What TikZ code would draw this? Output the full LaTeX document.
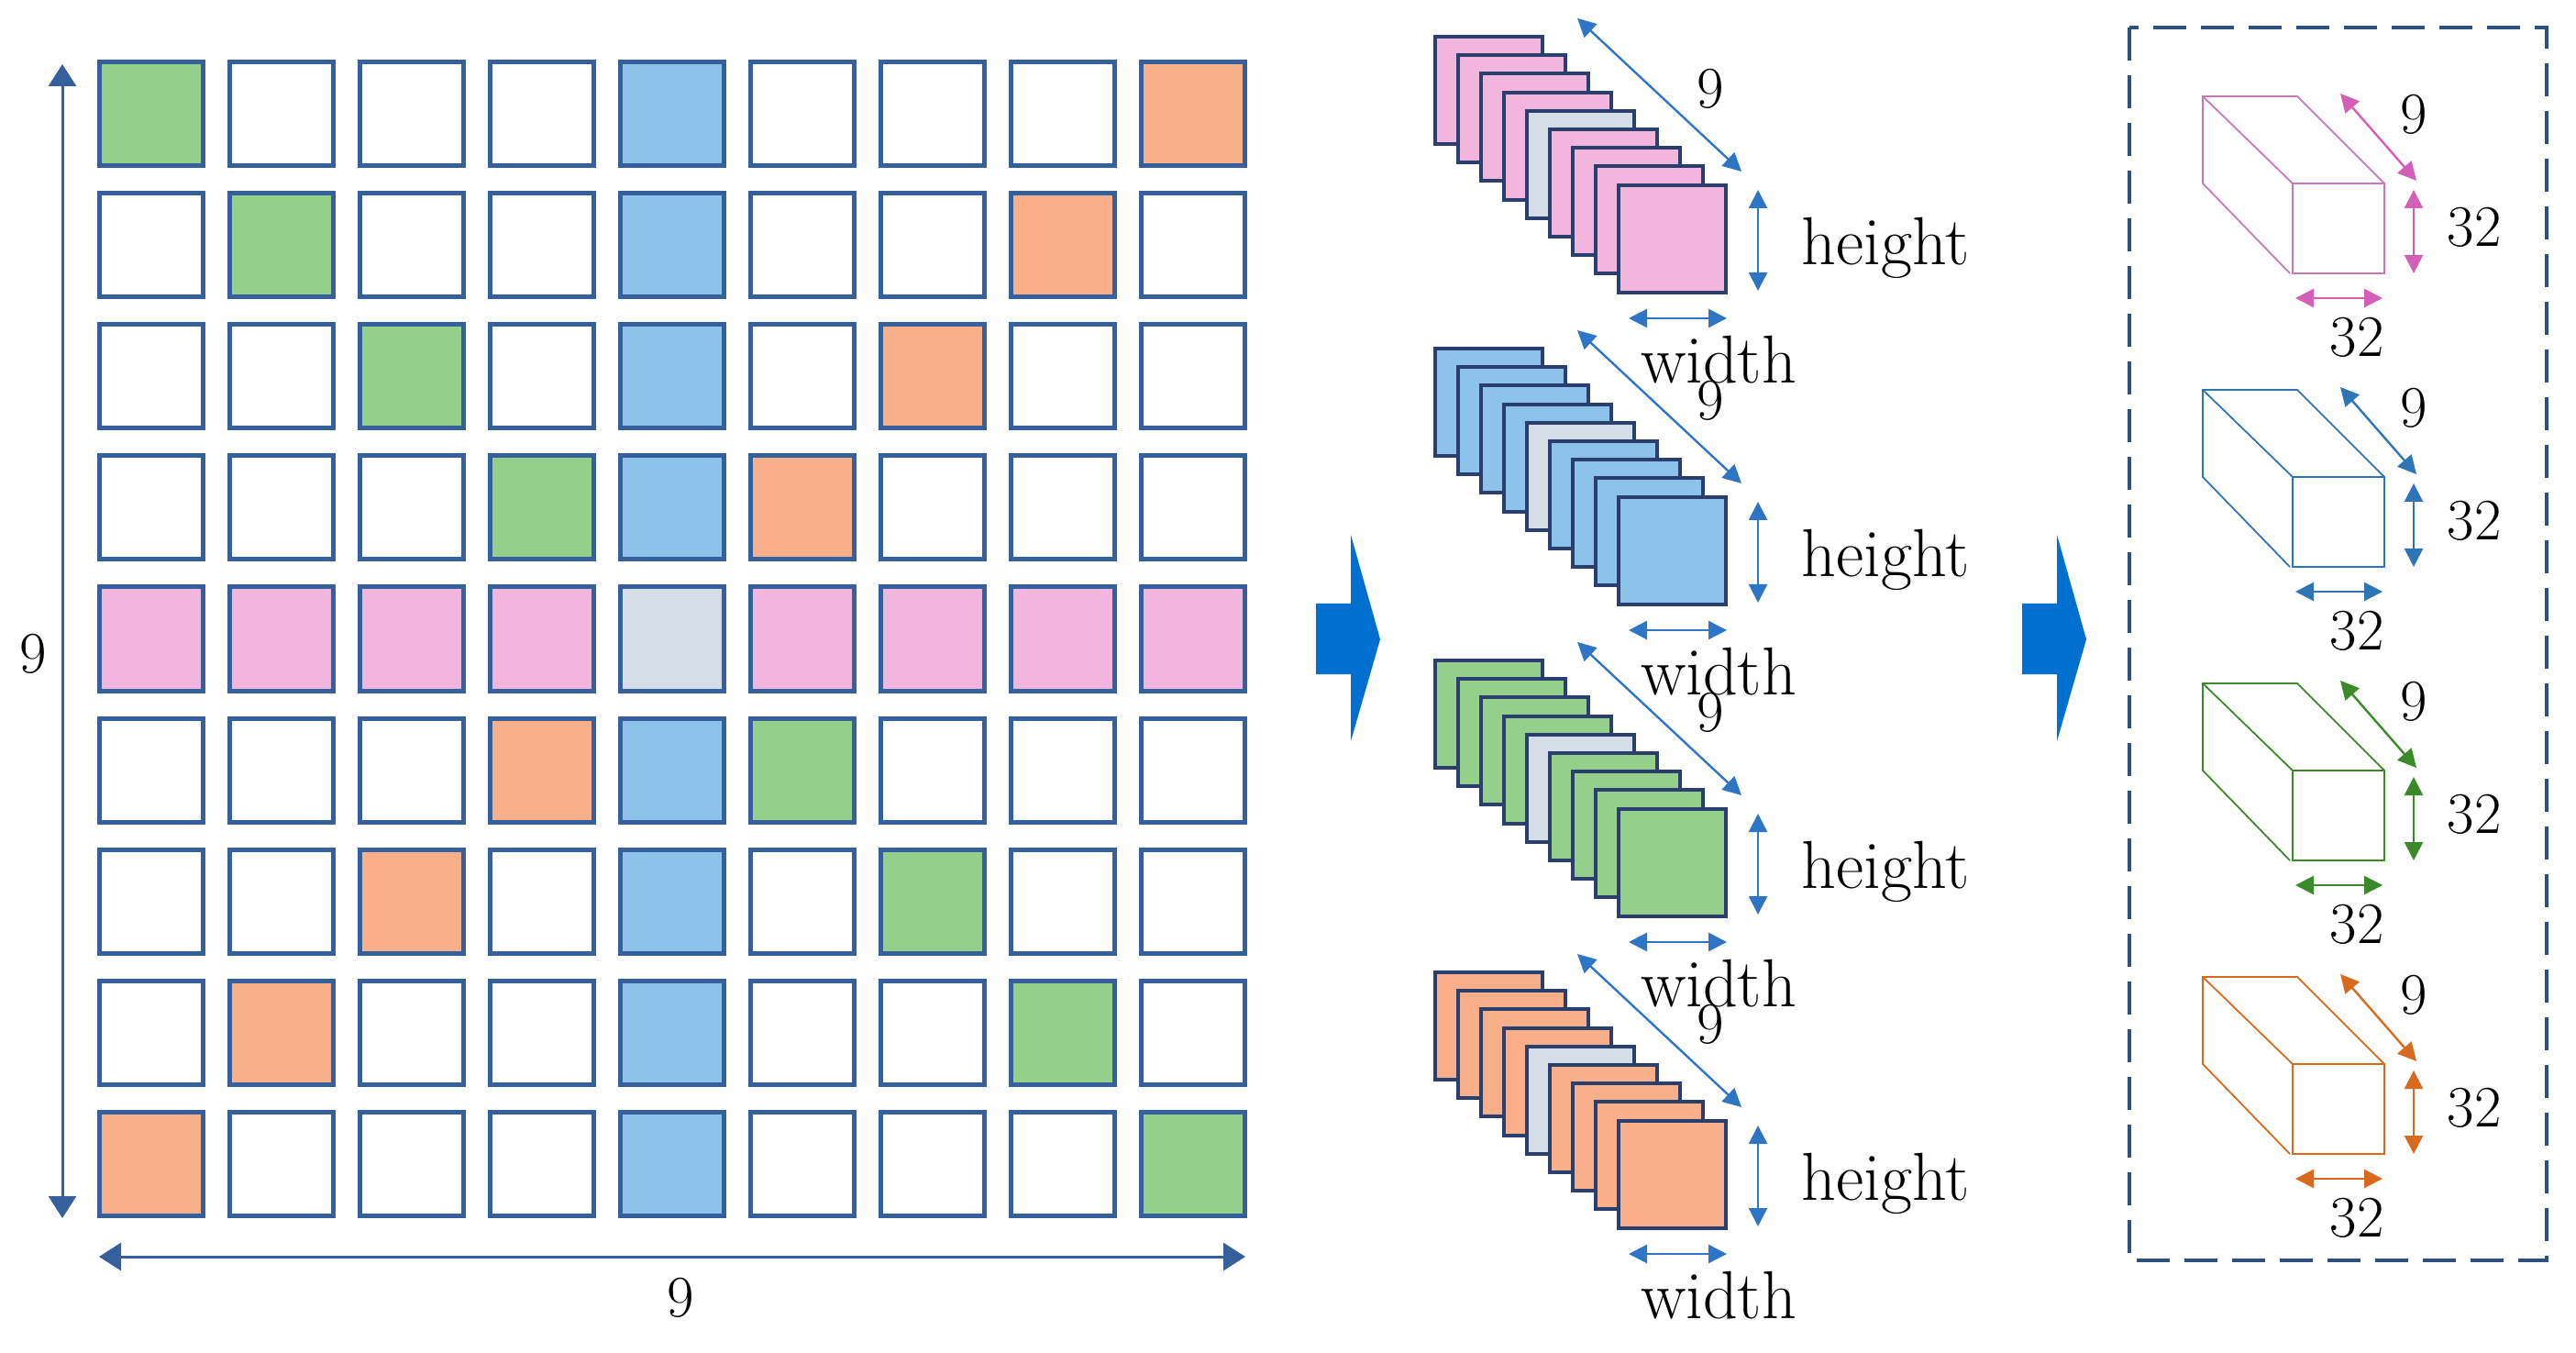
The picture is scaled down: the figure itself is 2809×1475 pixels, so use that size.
\documentclass[tikz,border=0pt]{standalone}
\usetikzlibrary{arrows.meta}
\definecolor{cgreen}{HTML}{94D089}
\definecolor{cblue}{HTML}{8DC3EA}
\definecolor{corange}{HTML}{F9B08A}
\definecolor{cpink}{HTML}{F2B6DE}
\definecolor{cgrey}{HTML}{D5DDE6}
\definecolor{cborder}{HTML}{35609C}
\definecolor{cnavy}{HTML}{2B3F6E}
\definecolor{carrow}{HTML}{2E75C6}
\definecolor{cbig}{HTML}{0070D0}
\definecolor{cmag}{HTML}{D35FB7}
\definecolor{cmagl}{HTML}{C878B4}
\definecolor{cblu}{HTML}{2E75B6}
\definecolor{cgrn}{HTML}{3A8A2A}
\definecolor{corg}{HTML}{D86A20}
\definecolor{cdash}{HTML}{2F4F7F}
\begin{document}
\begin{tikzpicture}[x=0.5pt,y=-0.5pt,
  cell/.style={draw=cborder,line width=2.5pt,minimum width=56.5pt,minimum height=56.5pt,inner sep=0pt,fill=#1},
  card/.style={draw=cnavy,line width=2pt,minimum width=58.5pt,minimum height=58.5pt,inner sep=0pt,fill=#1},
  bigarr/.style={{Triangle[width=15pt,length=12pt]}-{Triangle[width=15pt,length=12pt]},draw=cborder,line width=1.5pt},
  darr/.style={{Triangle[width=10pt,length=10pt]}-{Triangle[width=10pt,length=10pt]},draw=carrow,line width=1.2pt},
  carr/.style={{Triangle[width=10pt,length=10pt]}-{Triangle[width=10pt,length=10pt]},draw=#1,line width=1.2pt},
  lbl/.style={font=\fontsize{32}{36}\selectfont,inner sep=0pt},
  wlbl/.style={font=\fontsize{37}{40}\selectfont,inner sep=0pt},
  cub/.style={draw=#1,line width=0.9pt},
  blk/.style={fill=cbig}]
\useasboundingbox (0,0) rectangle (2809,1475);
% grid
\foreach \i in {0,...,8}{
  \foreach \j in {0,...,8}{
    \pgfmathtruncatemacro{\anti}{8-\i}
    \def\col{white}
    \ifnum\j=4 \def\col{cblue}\fi
    \ifnum\i=4 \def\col{cpink}\fi
    \ifnum\j=\i \def\col{cgreen}\fi
    \ifnum\j=\anti \def\col{corange}\fi
    \ifnum\i=4 \ifnum\j=4 \def\col{cgrey}\fi\fi
    \node[cell=\col] (g\i\j) at ({164.5+142*\j},{124.5+143*\i}) {};
  }
}
\coordinate (vt) at (68,70); \coordinate (vb) at (68,1328);
\draw[bigarr] (vb) -- (vt);
\node[lbl] (v9) at (36,713) {9};
\coordinate (hl) at (108,1370); \coordinate (hr) at (1358,1370);
\draw[bigarr] (hl) -- (hr);
\node[lbl] (h9) at (742,1415) {9};
% block arrows
\foreach \dx/\n in {0/ba1,770/ba2}{
  \begin{scope}[xshift=\dx*0.5pt]
  \fill[blk] (1435,658) -- (1473,658) -- (1473,583) -- (1505,697) -- (1473,808) -- (1473,735) -- (1435,735) -- cycle;
  \end{scope}
}
% stacks
\foreach \s/\c in {0/cpink,1/cblue,2/cgreen,3/corange}{
  \foreach \k in {0,...,8}{
    \ifnum\k=4 \def\cc{cgrey}\else \def\cc{\c}\fi
    \node[card=\cc] (st\s\k) at ({1623.5+25*\k},{98.5+20.2*\k+340*\s}) {};
  }
  \coordinate (da\s) at (1720,{20+340*\s}); \coordinate (db\s) at (1899,{187+340*\s});
  \draw[darr] (da\s) -- (db\s);
  \node[lbl] (n\s) at (1865,{97+340*\s}) {9};
  \coordinate (ha\s) at (1917,{207+340*\s}); \coordinate (hb\s) at (1917,{317+340*\s});
  \draw[darr] (ha\s) -- (hb\s);
  \node[wlbl] (ht\s) at (2056,{270+340*\s}) {height};
  \coordinate (wa\s) at (1776,{347+340*\s}); \coordinate (wb\s) at (1883,{347+340*\s});
  \draw[darr] (wa\s) -- (wb\s);
  \node[wlbl] (wt\s) at (1874,{392+340*\s}) {width};
}
% dashed box
\draw[cdash,line width=2pt,dash pattern=on 18pt off 8pt] (2322,30) rectangle (2777,1374);
% cuboids
\foreach \s/\c/\a in {0/cmagl/cmag,1/cblu/cblu,2/cgrn/cgrn,3/corg/corg}{
  \begin{scope}[yshift={-320*\s*0.5pt}]
    \draw[cub=\c] (2500,200) rectangle (2600,298);
    \draw[cub=\c] (2497,298) -- (2402,200) -- (2402,105) -- (2505,105) -- (2600,200);
    \draw[cub=\c] (2402,105) -- (2500,200);
  \end{scope}
  \coordinate (ca\s) at (2552,{102+320*\s}); \coordinate (cb\s) at (2635,{197+320*\s});
  \draw[carr=\a] (ca\s) -- (cb\s);
  \node[lbl] (c9\s) at (2632,{125+320*\s}) {9};
  \coordinate (cv\s) at (2632,{207+320*\s}); \coordinate (cw\s) at (2632,{298+320*\s});
  \draw[carr=\a] (cv\s) -- (cw\s);
  \node[lbl] (c32a\s) at (2698,{248+320*\s}) {32};
  \coordinate (ch\s) at (2503,{325+320*\s}); \coordinate (ci\s) at (2598,{325+320*\s});
  \draw[carr=\a] (ch\s) -- (ci\s);
  \node[lbl] (c32b\s) at (2570,{368+320*\s}) {32};
}
\end{tikzpicture}
\end{document}
